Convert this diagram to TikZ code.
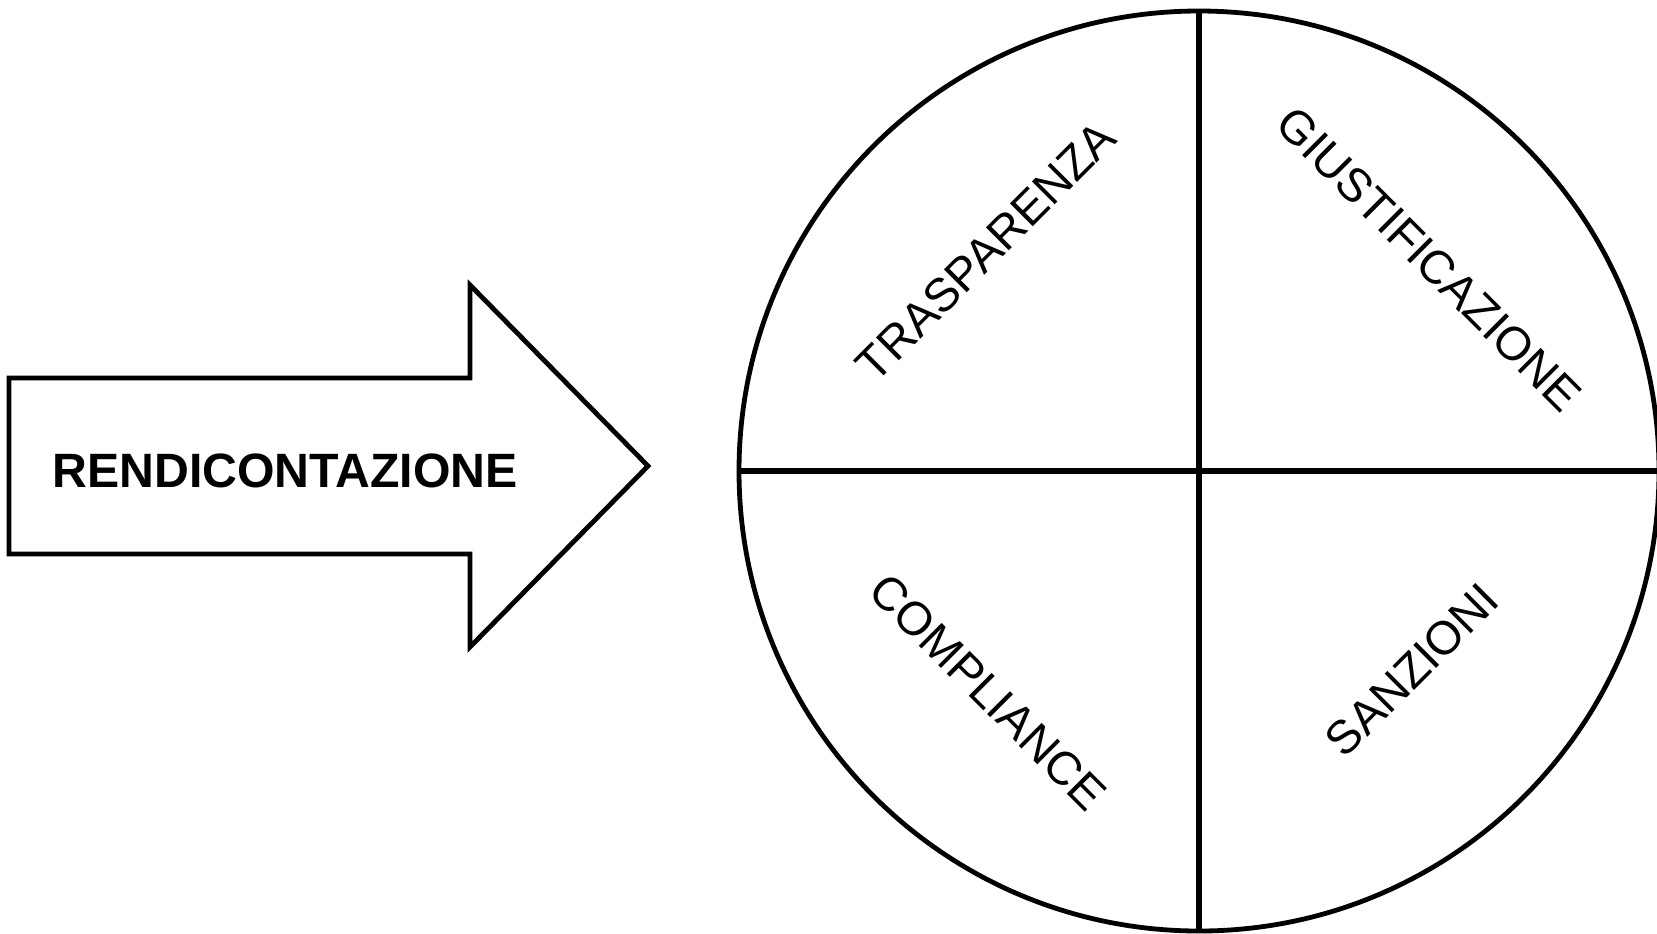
\documentclass[tikz,border=0pt]{standalone}
\usepackage{fontspec}
\setmainfont{Liberation Sans}

\begin{document}
\begin{tikzpicture}[x=0.5pt, y=-0.5pt]
\tikzset{ line join=miter, inner sep=0pt, outer sep=0pt,
  outline/.style={line width=2.4pt},
  divide/.style={line width=2.8pt},
  word/.style={font=\fontsize{23.5}{28}\selectfont},
}

\useasboundingbox (0,0) rectangle (1657,933);

% arrow
\draw [outline] (9,378) -- (470,378) -- (470,285) -- (648,466)
  -- (470,647) -- (470,554) -- (9,554) -- cycle;
\node [font=\fontsize{24.1}{28}\selectfont\bfseries] (rendic) at (285,471) {RENDICONTAZIONE};

% wheel
\node [draw, circle, outline, minimum size=460pt] (wheel) at (1199,471) {};
\draw [divide] (wheel.west)  -- (wheel.east);
\draw [divide] (wheel.north) -- (wheel.south);

\node [word, rotate=45]  (trasp) at (986,251)  {TRASPARENZA};
\node [word, rotate=-45] (giust) at (1429,259) {GIUSTIFICAZIONE};
\node [word, rotate=-45] (compl) at (988,692)  {COMPLIANCE};
\node [word, rotate=45]  (sanz)  at (1412,670) {SANZIONI};
\end{tikzpicture}
\end{document}
